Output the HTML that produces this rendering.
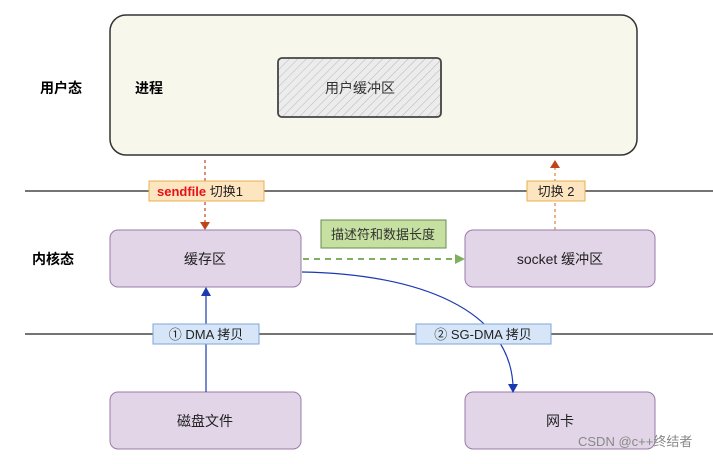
<!DOCTYPE html>
<html><head><meta charset="utf-8"><style>
body{margin:0;background:#fff;}
text{font-family:"Liberation Sans","Noto Sans CJK SC",sans-serif;}
</style></head><body>
<svg width="713" height="459" xmlns="http://www.w3.org/2000/svg">
<defs>
<pattern id="h" width="6" height="6" patternUnits="userSpaceOnUse" patternTransform="rotate(45)">
<rect width="6" height="6" fill="#ececec"/><line x1="0" y1="0" x2="0" y2="6" stroke="#b8b8b8" stroke-width="1"/>
</pattern>
</defs>
<rect x="110" y="15" width="527" height="140" rx="16" fill="#f8f7ec" stroke="#333" stroke-width="1.5"/>
<rect x="278" y="58" width="163" height="59" rx="4" fill="url(#h)" stroke="#444" stroke-width="1.8"/>
<text x="360" y="93" font-size="14" text-anchor="middle" fill="#333">用户缓冲区</text>
<text x="40" y="93" font-size="14" font-weight="bold" fill="#000">用户态</text>
<text x="135" y="93" font-size="14" font-weight="bold" fill="#000">进程</text>
<text x="32" y="264" font-size="14" font-weight="bold" fill="#000">内核态</text>
<line x1="25" y1="191" x2="713" y2="191" stroke="#222" stroke-width="1.3"/>
<line x1="25" y1="334" x2="713" y2="334" stroke="#222" stroke-width="1.3"/>
<line x1="205" y1="160" x2="205" y2="224" stroke="#c0441a" stroke-width="1.2" stroke-dasharray="3,3"/>
<polygon points="200,222 210,222 205,230" fill="#c0441a"/>
<line x1="555" y1="230" x2="555" y2="166" stroke="#e0803a" stroke-width="1.2" stroke-dasharray="3,3"/>
<polygon points="550,168 560,168 555,160" fill="#c0441a"/>
<rect x="110" y="230" width="191" height="57" rx="8" fill="#e2d5e8" stroke="#9a7aa8"/>
<text x="205" y="264" font-size="14" text-anchor="middle" fill="#222">缓存区</text>
<rect x="465" y="230" width="190" height="57" rx="8" fill="#e2d5e8" stroke="#9a7aa8"/>
<text x="560" y="264" font-size="14" text-anchor="middle" fill="#222">socket 缓冲区</text>
<rect x="110" y="392" width="191" height="57" rx="8" fill="#e2d5e8" stroke="#9a7aa8"/>
<text x="205" y="426" font-size="14" text-anchor="middle" fill="#222">磁盘文件</text>
<rect x="465" y="392" width="190" height="57" rx="8" fill="#e2d5e8" stroke="#9a7aa8"/>
<text x="560" y="426" font-size="14" text-anchor="middle" fill="#222">网卡</text>
<line x1="303" y1="259" x2="458" y2="259" stroke="#7fb060" stroke-width="2" stroke-dasharray="6,5"/>
<polygon points="455,254 465,259 455,264" fill="#7fb060"/>
<rect x="321" y="220" width="125" height="28" fill="#c5e0a0" stroke="#6a8a50"/>
<text x="383" y="239" font-size="13" text-anchor="middle" fill="#333">描述符和数据长度</text>
<line x1="206" y1="392" x2="206" y2="294" stroke="#1a3ab0" stroke-width="1.2"/>
<polygon points="201,296 211,296 206,287" fill="#1a3ab0"/>
<path d="M302,272 C420,274 510,310 513,386" fill="none" stroke="#1a3ab0" stroke-width="1.2"/>
<polygon points="508,384 518,384 513,393" fill="#1a3ab0"/>
<rect x="149" y="181" width="115" height="20" fill="#fde5c0" stroke="#e8b050"/>
<text x="157" y="196" font-size="13" font-weight="bold" fill="#e8101a">sendfile <tspan font-weight="normal" fill="#222">切换1</tspan></text>
<rect x="527" y="181" width="58" height="20" fill="#fde5c0" stroke="#e8b050"/>
<text x="556" y="196" font-size="13" text-anchor="middle" fill="#222">切换 2</text>
<rect x="153" y="324" width="106" height="20" fill="#d6e6f8" stroke="#7ea6d8"/>
<text x="206" y="339" font-size="13" text-anchor="middle" fill="#222">① DMA 拷贝</text>
<rect x="416" y="324" width="135" height="20" fill="#d6e6f8" stroke="#7ea6d8"/>
<text x="483" y="339" font-size="13" text-anchor="middle" fill="#222">② SG-DMA 拷贝</text>
<text x="578" y="446" font-size="13" fill="#888">CSDN @c++终结者</text>
</svg>
</body></html>
